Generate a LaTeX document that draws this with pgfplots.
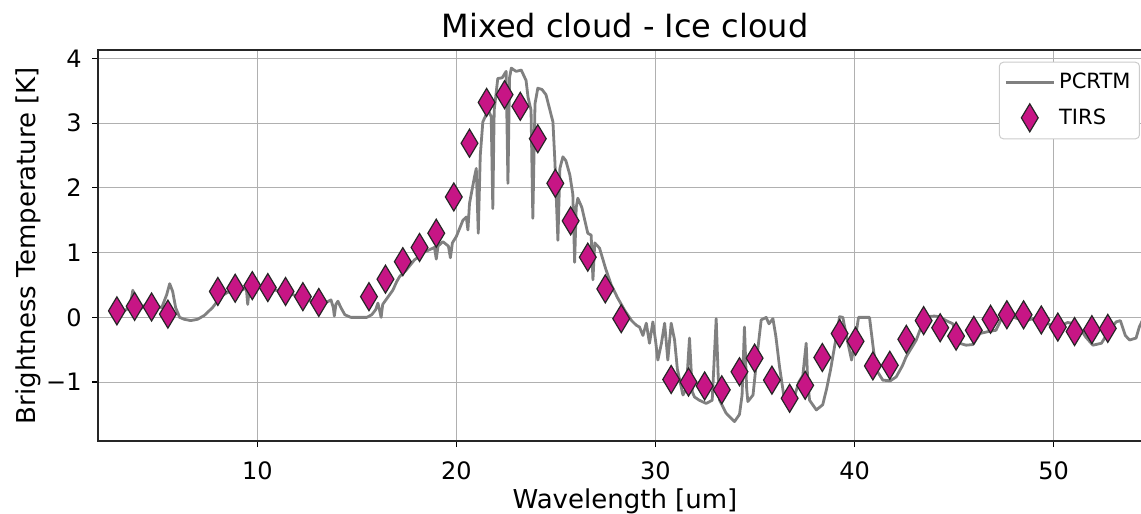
\documentclass[border=0pt]{standalone}
\usepackage{fontspec}
\setmainfont{DejaVu Sans}
\usepackage{pgfplots}
\pgfplotsset{compat=1.18}
\definecolor{tirs}{HTML}{C71585}
\definecolor{pcrtm}{HTML}{808080}
\definecolor{gridc}{HTML}{B0B0B0}
\begin{document}
\begin{tikzpicture}
\useasboundingbox (-49pt,-36.5pt) rectangle (521.5pt,220.5pt);
\begin{axis}[
  at={(0,0)}, anchor=south west,
  scale only axis, width=527pt, height=195.5pt,
  xmin=2.0, xmax=54.94, ymin=-1.91, ymax=4.13,
  xtick={10,20,30,40,50}, xticklabels={10,20,30,40,50},
  ytick={-1,0,1,2,3,4}, yticklabels={−1,0,1,2,3,4},
  xtick pos=bottom, ytick pos=left, tick align=outside,
  major tick length=3pt,
  every tick/.style={black, line width=0.6pt},
  axis line style={black!85, line width=0.6pt},
  grid=major, major grid style={gridc, line width=0.5pt},
  tick label style={font=\fontsize{12}{14}\selectfont},
  xticklabel style={anchor=base, yshift=-16pt},
  yticklabel style={anchor=east, inner sep=0pt, xshift=-5pt},
  title={Mixed cloud - Ice cloud},
  title style={at={(axis description cs:0.5,1)}, anchor=base, yshift=0.35pt, font=\fontsize{16}{19}\selectfont},
  xlabel={Wavelength [um]},
  xlabel style={at={(axis description cs:0.5,0)}, anchor=base, yshift=-33.5pt, font=\fontsize{13}{15}\selectfont},
  every axis y label/.style={at={(axis description cs:0,0.5)}, xshift=-31pt, rotate=90, anchor=base, font=\fontsize{13}{15}\selectfont},
  ylabel={Brightness Temperature [K]},
  legend image code/.code={\draw[mark repeat=2,mark phase=2] plot coordinates {(0pt,0pt) (12pt,0pt) (24pt,0pt)};},
  legend style={at={(axis description cs:0.9886,0.970)}, anchor=north east,
    draw=black!20, line width=0.5pt, rounded corners=2pt, fill=white,
    font=\fontsize{10.5}{12}\selectfont, inner xsep=2.5pt, inner ysep=3.5pt, row sep=4pt,
    cells={anchor=west}, nodes={inner sep=2pt, font=\fontsize{10.5}{12}\selectfont},
    /tikz/every even column/.append style={column sep=8pt}},
]
\addplot[pcrtm, line width=1.4pt, line join=round] coordinates {
(2.9,0.08) (3.0,0.08) (3.3,0.10) (3.6,0.15) (3.75,0.42) (3.85,0.15) (4.1,0.12) (4.4,0.20) (4.6,0.10)
(4.9,0.18) (5.2,0.15) (5.45,0.35) (5.6,0.52) (5.75,0.40) (5.9,0.15) (6.1,0.0) (6.33,-0.03)
(6.66,-0.05) (7.0,-0.03) (7.34,0.03) (7.75,0.15) (8.0,0.25) (8.3,0.35) (8.6,0.40) (8.9,0.45)
(9.2,0.42) (9.45,0.45) (9.52,0.20) (9.6,0.45) (9.9,0.48) (10.2,0.45) (10.6,0.42) (11.0,0.42)
(11.4,0.38) (11.8,0.35) (12.2,0.30) (12.6,0.26) (13.0,0.25) (13.4,0.22) (13.7,0.27) (13.82,0.15)
(13.87,0.02) (13.95,0.20) (14.05,0.25) (14.2,0.15) (14.4,0.04) (14.7,0.0) (15.5,0.0) (15.75,0.04)
(15.95,0.12) (16.06,0.22) (16.15,0.10) (16.22,0.0) (16.3,0.20) (16.6,0.33) (16.81,0.42) (17.0,0.55)
(17.15,0.63) (17.48,0.73) (17.9,0.89) (18.2,0.95) (18.4,1.01) (18.9,1.08) (18.99,0.90) (19.08,1.10)
(19.32,1.17) (19.6,1.10) (19.7,0.92) (19.8,1.15) (20.0,1.25) (20.33,1.50) (20.5,1.55) (20.58,1.35)
(20.66,1.76) (20.91,2.17) (21.0,2.30) (21.1,1.30) (21.2,2.50) (21.33,3.02) (21.6,3.20) (21.75,3.10)
(21.83,1.68) (21.9,3.20) (22.08,3.69) (22.3,3.70) (22.5,3.80) (22.59,2.07) (22.67,3.70) (22.76,3.85)
(23.0,3.80) (23.26,3.82) (23.5,3.66) (23.6,3.40) (23.75,3.20) (23.84,1.53) (23.95,3.30) (24.09,3.54)
(24.3,3.52) (24.5,3.44) (24.7,3.20) (24.85,3.02) (24.95,2.40) (25.1,1.19) (25.2,2.30) (25.35,2.48)
(25.5,2.42) (25.7,2.20) (25.85,1.90) (25.94,0.85) (26.02,1.70) (26.1,1.84) (26.3,1.70) (26.6,1.30)
(26.77,1.27) (26.86,0.58) (26.95,1.15) (27.19,1.07) (27.5,0.75) (27.78,0.50) (28.1,0.30) (28.45,0.11)
(28.8,-0.05) (29.03,-0.12) (29.2,-0.15) (29.37,-0.28) (29.54,-0.09) (29.7,-0.40) (29.87,-0.07)
(30.0,-0.35) (30.12,-0.66) (30.3,-0.40) (30.46,-0.09) (30.62,-0.66) (30.79,-0.09) (30.96,-0.35)
(31.1,-0.80) (31.38,-1.20) (31.55,-1.10) (31.71,-0.32) (31.85,-1.15) (31.96,-1.23) (32.2,-1.28)
(32.55,-1.33) (32.85,-1.28) (33.05,-0.02) (33.15,-0.90) (33.22,-1.28) (33.55,-1.48) (33.97,-1.61)
(34.22,-1.50) (34.35,-1.20) (34.47,-0.15) (34.58,-1.10) (34.64,-1.30) (34.9,-1.20) (35.1,-0.60)
(35.31,-0.04) (35.56,0.0) (35.7,-0.10) (35.9,-0.02) (36.05,-0.30) (36.23,-0.76) (36.48,-1.28)
(36.8,-1.35) (37.0,-1.20) (37.2,-1.00) (37.4,-0.90) (37.57,-0.40) (37.65,-1.00) (37.74,-1.28)
(38.08,-1.43) (38.4,-1.35) (38.6,-1.10) (38.8,-0.80) (39.08,-0.30) (39.25,0.01) (39.41,0.0)
(39.6,-0.30) (39.85,-0.66) (40.0,-0.40) (40.2,0.0) (40.5,0.0) (40.75,0.0) (40.95,-0.50) (41.09,-0.81)
(41.42,-0.97) (41.8,-0.98) (42.09,-0.92) (42.4,-0.75) (42.59,-0.61) (43.1,-0.35) (43.4,-0.10)
(43.6,0.01) (44.0,0.02) (44.27,0.01) (44.6,-0.05) (44.94,-0.10) (45.1,-0.30) (45.27,-0.40)
(45.6,-0.43) (45.94,-0.42) (46.3,-0.25) (46.7,-0.22) (47.1,-0.20) (47.43,0.01) (47.8,0.02)
(48.2,-0.02) (48.62,-0.05) (49.29,0.01) (49.7,-0.10) (50.2,-0.15) (50.7,-0.08) (51.2,-0.10)
(51.6,-0.30) (51.97,-0.43) (52.4,-0.40) (52.8,-0.20) (53.14,-0.07) (53.35,-0.05) (53.6,-0.28)
(53.81,-0.35) (54.14,-0.32) (54.3,-0.15) (54.5,-0.02) (54.9,-0.02)
};
\addlegendentry{PCRTM}
\addplot[only marks, mark=diamond*, mark size=7pt,
  mark options={xscale=0.8, fill=tirs, draw=black!85, line width=0.6pt}] coordinates {
(2.95,0.10) (3.84,0.17) (4.69,0.16) (5.51,0.05) (8.02,0.40) (8.89,0.45) (9.75,0.49) (10.53,0.46)
(11.42,0.40) (12.29,0.32) (13.09,0.23) (15.61,0.32) (16.44,0.59) (17.31,0.86) (18.15,1.08)
(18.99,1.30) (19.87,1.86) (20.66,2.69) (21.52,3.32) (22.42,3.44) (23.21,3.26) (24.09,2.76)
(24.97,2.07) (25.74,1.49) (26.6,0.93) (27.48,0.44) (28.28,-0.02) (30.79,-0.96) (31.66,-1.00)
(32.47,-1.06) (33.33,-1.12) (34.22,-0.84) (34.98,-0.63) (35.85,-0.97) (36.74,-1.25) (37.52,-1.05)
(38.38,-0.62) (39.25,-0.25) (40.05,-0.37) (40.92,-0.75) (41.77,-0.74) (42.6,-0.34) (43.47,-0.05)
(44.3,-0.16) (45.1,-0.29) (45.99,-0.20) (46.83,-0.03) (47.65,0.04) (48.49,0.04) (49.38,-0.04)
(50.21,-0.15) (51.05,-0.22) (51.92,-0.19) (52.72,-0.17)
};
\addlegendentry{TIRS}
\end{axis}
\end{tikzpicture}
\end{document}
